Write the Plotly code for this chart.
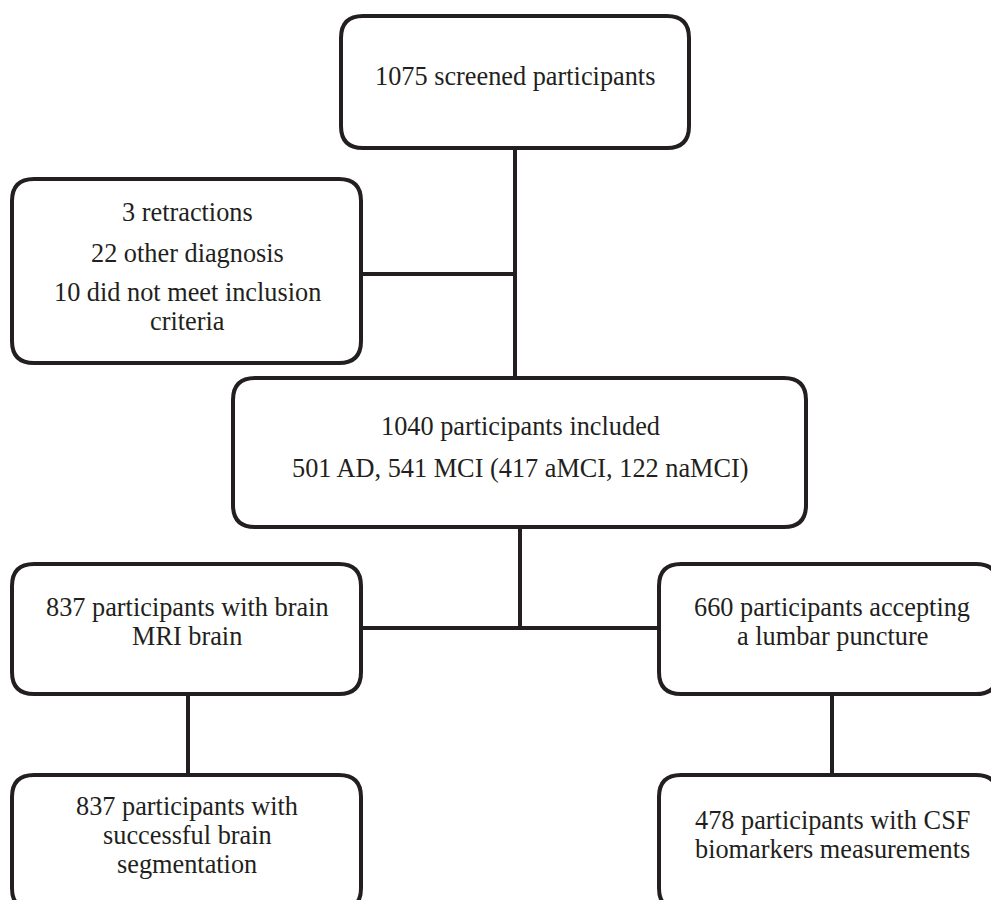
import plotly.graph_objects as go

# ---- content ----
box_names = ["screened", "excluded", "included", "mri", "lumbar", "segmentation", "csf"]
box_lines = [
    ["1075 screened participants"],
    ["3 retractions", "22 other diagnosis", "10 did not meet inclusion", "criteria"],
    ["1040 participants included", "501 AD, 541 MCI (417 aMCI, 122 naMCI)"],
    ["837 participants with brain", "MRI brain"],
    ["660 participants accepting", "a lumbar puncture"],
    ["837 participants with", "successful brain", "segmentation"],
    ["478 participants with CSF", "biomarkers measurements"],
]

# ---- layout (pixel space) ----
W, H = 991, 900
box_rect = {  # x0, x1, y0, y1
    "screened": (341, 689, 16, 148),
    "excluded": (12, 361, 179, 363),
    "included": (233, 806, 378, 527),
    "mri": (12, 361, 564, 694),
    "lumbar": (659, 998, 564, 694),
    "segmentation": (12, 361, 775, 910),
    "csf": (659, 998, 775, 910),
}
text_pos = {  # x centre, y of each line
    "screened": (515, [76]),
    "excluded": (187, [212, 253, 292, 321]),
    "included": (520, [426, 468]),
    "mri": (187, [607, 636]),
    "lumbar": (832, [607, 636]),
    "segmentation": (187, [806, 835, 864]),
    "csf": (832, [820, 849]),
}
connectors = [  # x0, y0, x1, y1
    (515, 148, 515, 378),
    (361, 274, 515, 274),
    (520, 527, 520, 628),
    (361, 628, 659, 628),
    (188, 694, 188, 775),
    (832, 694, 832, 775),
]

INK = "#231f20"
LW = 4
R = 22
FONT = dict(family="Liberation Serif", size=26.3, color=INK)


def rounded(x0, x1, y0, y1, r):
    return (f"M {x0+r},{y0} L {x1-r},{y0} Q {x1},{y0} {x1},{y0+r} "
            f"L {x1},{y1-r} Q {x1},{y1} {x1-r},{y1} "
            f"L {x0+r},{y1} Q {x0},{y1} {x0},{y1-r} "
            f"L {x0},{y0+r} Q {x0},{y0} {x0+r},{y0} Z")


fig = go.Figure()
fig.add_trace(go.Scatter(x=[0, W], y=[0, H], mode="markers",
                         marker=dict(opacity=0), hoverinfo="skip", showlegend=False))

shapes = []
for (x0, y0, x1, y1) in connectors:
    shapes.append(dict(type="line", xref="x", yref="y", x0=x0, y0=y0, x1=x1, y1=y1,
                       line=dict(color=INK, width=LW), layer="above"))
for name in box_names:
    x0, x1, y0, y1 = box_rect[name]
    shapes.append(dict(type="path", xref="x", yref="y", path=rounded(x0, x1, y0, y1, R),
                       line=dict(color=INK, width=LW), fillcolor="rgba(0,0,0,0)",
                       layer="above"))

annotations = []
for name, lines in zip(box_names, box_lines):
    cx, ys = text_pos[name]
    for line, y in zip(lines, ys):
        annotations.append(dict(x=cx, y=y, xref="x", yref="y", text=line,
                                showarrow=False, xanchor="center", yanchor="middle",
                                font=FONT))

fig.update_layout(
    width=W, height=H,
    margin=dict(l=0, r=0, t=0, b=0),
    paper_bgcolor="white", plot_bgcolor="white",
    font=FONT,
    xaxis=dict(range=[0, W], visible=False, fixedrange=True),
    yaxis=dict(range=[H, 0], visible=False, fixedrange=True),
    shapes=shapes, annotations=annotations, showlegend=False,
)
fig.write_html("out.html", config={"displayModeBar": False},
               post_script="document.body.style.margin='0';document.body.style.overflow='hidden';")
